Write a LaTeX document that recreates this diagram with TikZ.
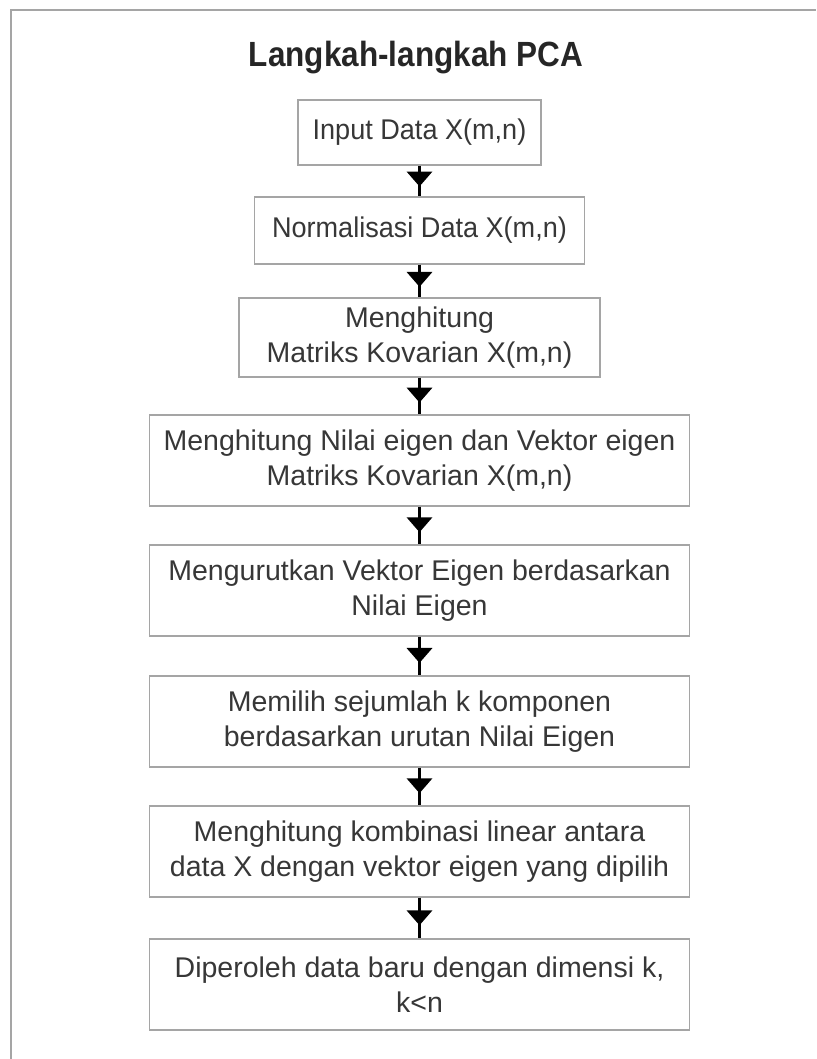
\documentclass[tikz,border=0pt]{standalone}
\usepackage{fontspec}
\setmainfont{Liberation Sans}
\usetikzlibrary{arrows.meta,decorations.markings}
\definecolor{pcagray}{RGB}{165,165,165}
\definecolor{pcatext}{RGB}{55,55,55}
\tikzset{
  langkah/.style={draw=pcagray, line width=1.3pt, fill=white, align=center,
    text=pcatext, inner sep=0pt, font=\fontsize{28.5}{35}\selectfont},
  panah/.style={line width=3.8pt, postaction={decorate},
    decoration={markings, mark=at position 0.68 with {\arrow{Triangle[width=25pt,length=15pt]}}}}
}

\begin{document}
\begin{tikzpicture}[x=1pt, y=-1pt]
\useasboundingbox (0,0) rectangle (816,1059);

% frame
\draw[pcagray, line width=1.5pt] (11,1059) -- (11,10) -- (816,10);

\node[font=\bfseries\fontsize{35}{40}\selectfont, text=black!85] (judul) at (416,58) {\scalebox{0.9}[1]{Langkah-langkah PCA}};

% steps
\node[langkah, minimum width=243pt, minimum height=65pt] (b1) at (419.5,132.5) {\scalebox{0.95}[1]{Input Data X(m,n)}};
\node[langkah, minimum width=330pt, minimum height=67pt] (b2) at (419.5,230.5) {\scalebox{0.95}[1]{Normalisasi Data X(m,n)}};
\node[langkah, minimum width=361pt, minimum height=79pt] (b3) at (419.5,337.5) {Menghitung\\Matriks Kovarian X(m,n)};
\node[langkah, minimum width=540pt, minimum height=91pt] (b4) at (419.5,460.5) {Menghitung Nilai eigen dan Vektor eigen\\Matriks Kovarian X(m,n)};
\node[langkah, minimum width=540pt, minimum height=91pt] (b5) at (419.5,590.5) {Mengurutkan Vektor Eigen berdasarkan\\Nilai Eigen};
\node[langkah, minimum width=540pt, minimum height=91pt] (b6) at (419.5,721.5) {Memilih sejumlah k komponen\\berdasarkan urutan Nilai Eigen};
\node[langkah, minimum width=540pt, minimum height=91pt] (b7) at (419.5,851.5) {Menghitung kombinasi linear antara\\data X dengan vektor eigen yang dipilih};
\node[langkah, minimum width=540pt, minimum height=91pt] (b8) at (419.5,984.5) {Diperoleh data baru dengan dimensi k,\\k<n};

% arrows
\foreach \a/\b in {b1/b2, b2/b3, b3/b4, b4/b5, b5/b6, b6/b7, b7/b8}{
  \draw[panah] (\a.south) -- (\b.north);
}
\end{tikzpicture}
\end{document}
